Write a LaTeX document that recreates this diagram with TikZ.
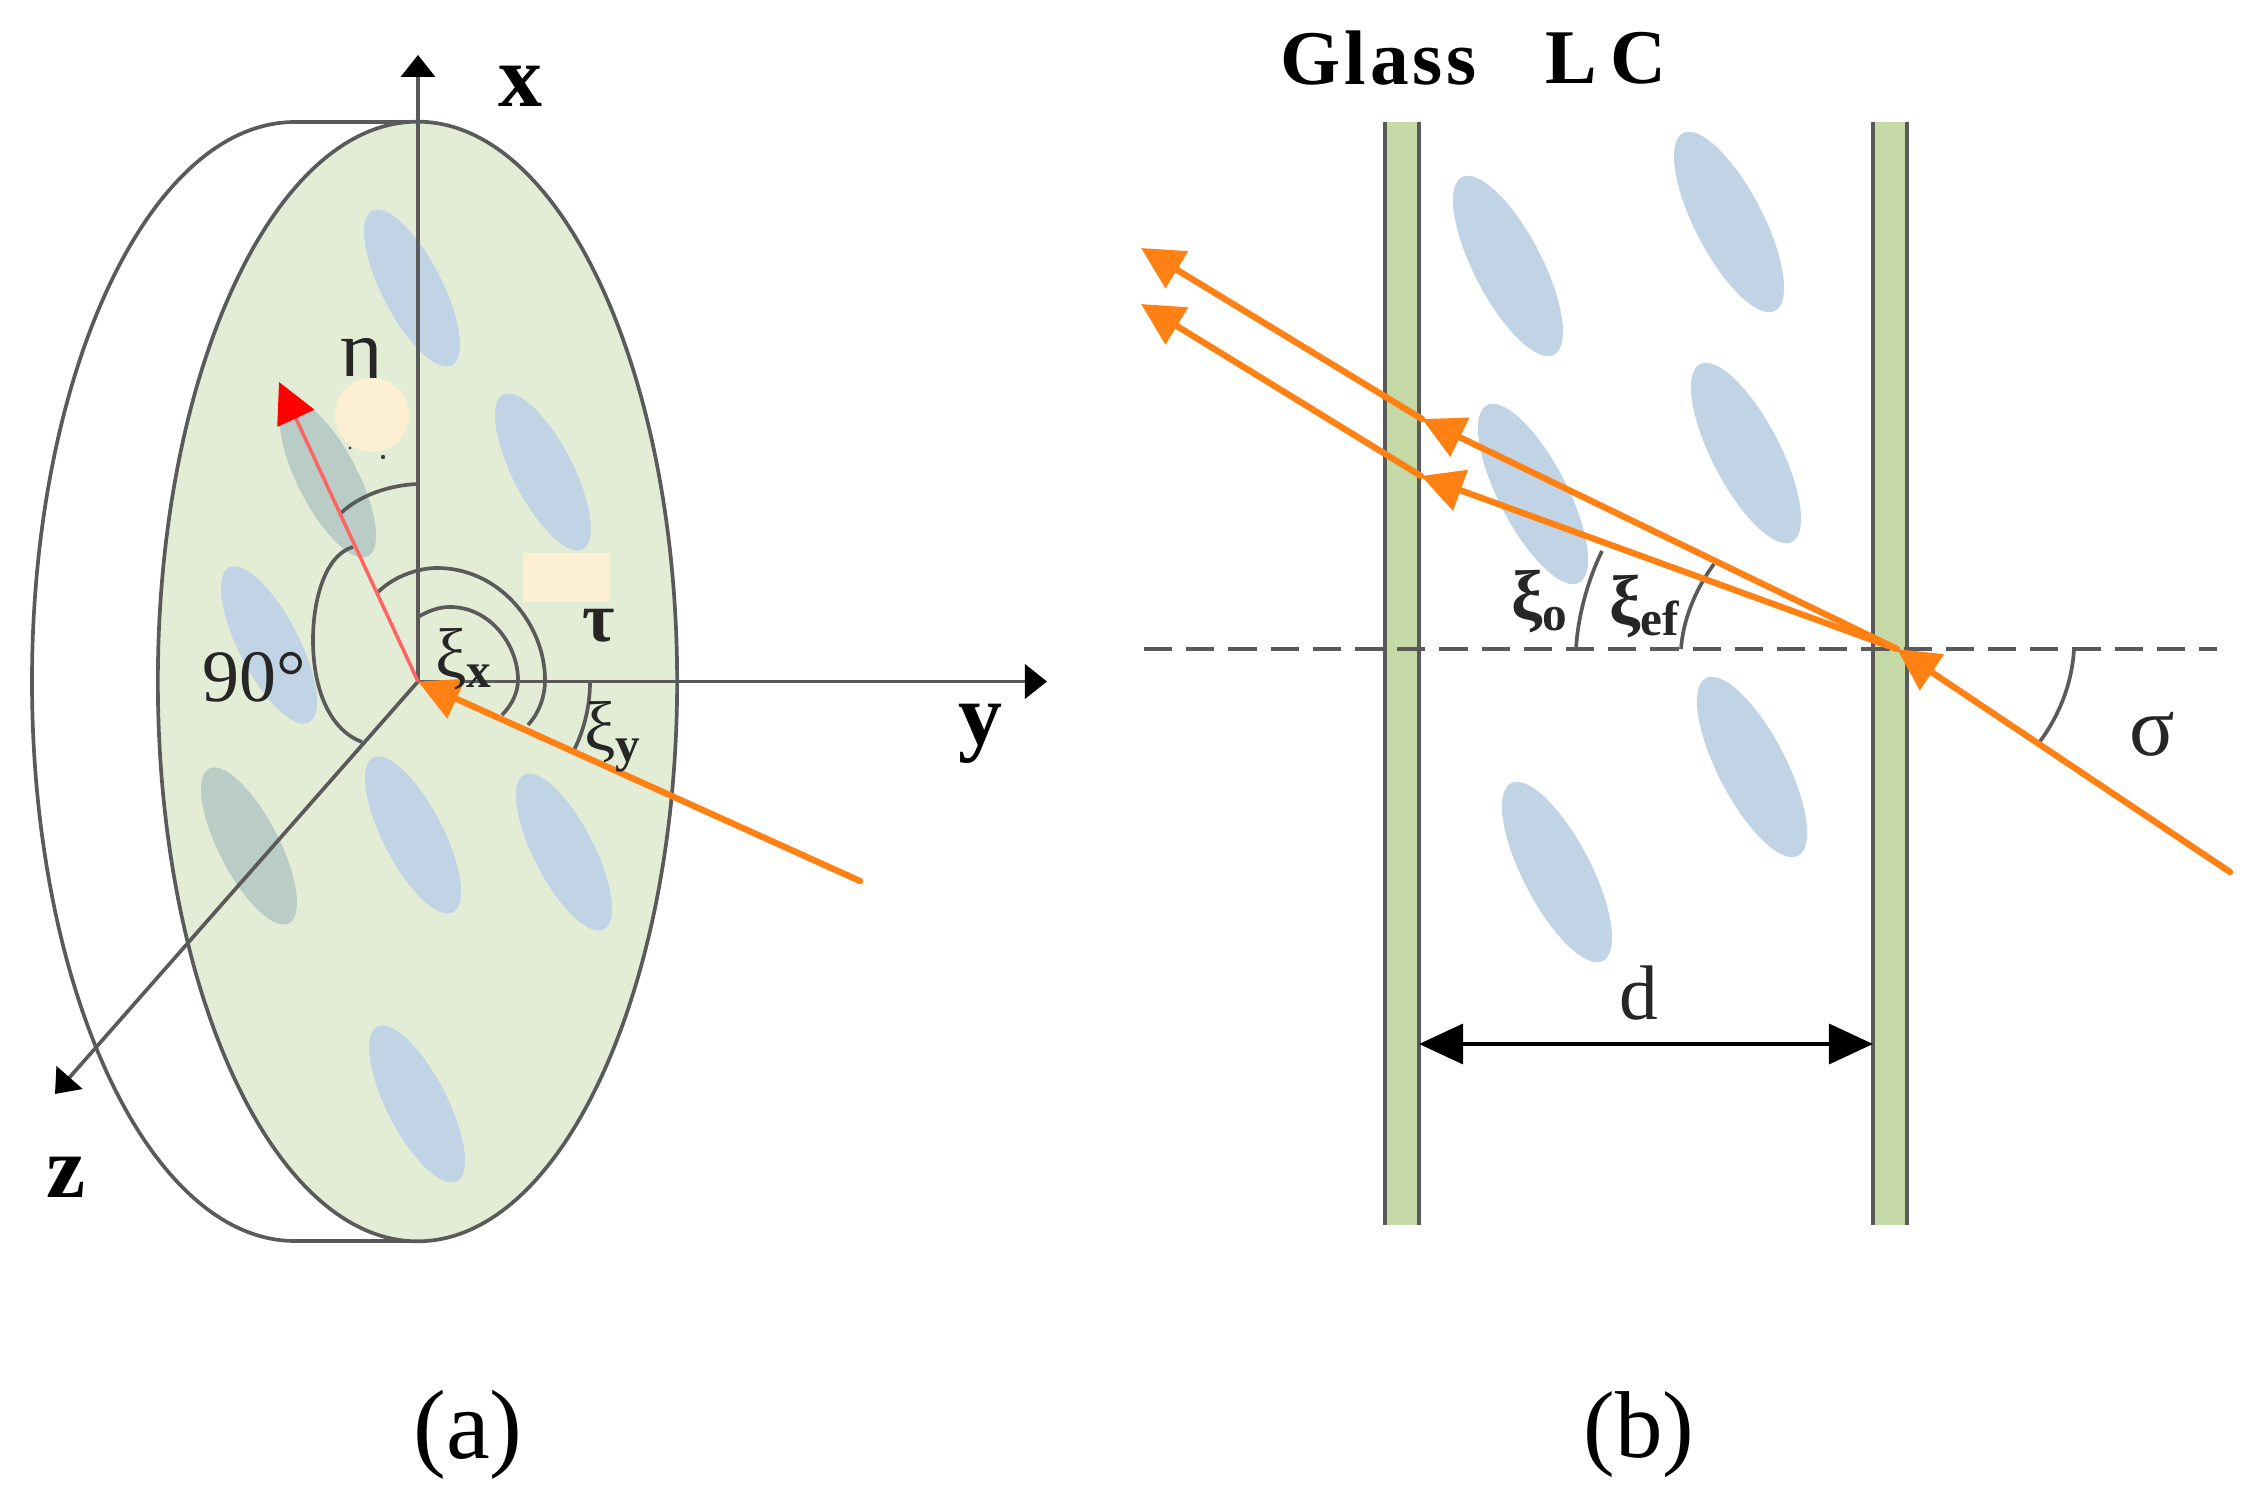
\documentclass[tikz,border=0pt]{standalone}
\usepackage{fontspec}
\setmainfont{Liberation Serif}
\usetikzlibrary{arrows.meta,shapes.geometric}
\definecolor{disc}{HTML}{E3EDD6}
\definecolor{cellblue}{HTML}{C1D4E6}
\definecolor{celldark}{HTML}{B9CDC6}
\definecolor{plategreen}{HTML}{C5DAA6}
\definecolor{peach}{HTML}{FDF0D2}
\definecolor{raycol}{HTML}{FF8114}
\definecolor{linegrey}{HTML}{5A5A5A}
\definecolor{redline}{HTML}{FF6464}
\tikzset{
 px/.style={x=0.01cm,y=-0.01cm},
 cellA/.style={shape=ellipse,draw=none,fill=cellblue,inner sep=0pt,minimum width=1.74cm,minimum height=0.6cm,rotate=-62.7},
 cellD/.style={cellA,fill=celldark},
 cellB/.style={shape=ellipse,draw=none,fill=cellblue,inner sep=0pt,minimum width=2cm,minimum height=0.68cm,rotate=-62.6},
 axis/.style={draw=linegrey,line width=1.05pt,-{Triangle[length=0.22cm,width=0.34cm,color=black]}},
 thin arc/.style={draw=linegrey,line width=1.05pt},
 ray/.style={draw=raycol,line width=1.8pt,line cap=round},
 rayhead/.style={ray,-{Triangle[length=0.42cm,width=0.42cm,color=raycol]}},
 plate/.style={draw=none,fill=plategreen},
 lab/.style={inner sep=0pt,text=black!85},
 axlab/.style={inner sep=0pt,font=\fontsize{25}{25}\selectfont\bfseries},
}
\newcommand{\xisub}[1]{{\fontsize{20}{20}\selectfont ξ}{\fontsize{14}{14}\selectfont\raisebox{-3pt}{\bfseries #1}}}
\begin{document}
\begin{tikzpicture}[px]
\useasboundingbox (0,0) rectangle (2257,1504);
% --- panel (a)
\draw[thin arc] (418,122) -- (295,122) .. controls (150,122) and (32,372) .. (32,681.5)
  .. controls (32,991) and (150,1241) .. (295,1241) -- (418,1241);
\node[shape=ellipse,draw=linegrey,line width=1.05pt,fill=disc,inner sep=0pt,minimum width=5.19cm,minimum height=11.19cm] (disc) at (417.5,681.5) {};
\node[cellA] (a1) at (412,288) {};
\node[cellA] (a2) at (543,472) {};
\node[cellD] (a3) at (328,479) {};
\node[cellA] (a4) at (269,645) {};
\node[cellD] (a5) at (249,846) {};
\node[cellA] (a6) at (413,835) {};
\node[cellA] (a7) at (564,852) {};
\node[cellA] (a8) at (417,1104) {};
\node[lab,font=\fontsize{23}{23}\selectfont] (eta) at (362,366) {η};
\node[circle,fill=peach,draw=none,inner sep=0pt,minimum size=0.74cm] (blob) at (372,415) {};
\node[rectangle,fill=peach,draw=none,inner sep=0pt,minimum width=0.87cm,minimum height=0.49cm] (patch) at (566.5,577.5) {};
\fill[black!75] (383,457) circle (2.2) (350,448) circle (1.6);
\coordinate (O) at (418,681.5);
\coordinate (xend) at (418,55);
\coordinate (yend) at (1047,681.5);
\coordinate (zend) at (55,1094);
\coordinate (redend) at (279,382);
\coordinate (rayA) at (860,881);
\draw[thin arc] (418,484) .. controls (390,485) and (360,495) .. (341,513);
\draw[thin arc] (353,547) .. controls (325,555) and (313,600) .. (313,640) .. controls (313,690) and (330,730) .. (362,742);
\draw[thin arc] (377,593) .. controls (395,575) and (420,568) .. (437,568) .. controls (500,568) and (545,625) .. (545,680) .. controls (545,695) and (540,712) .. (528,725);
\draw[thin arc] (418,617) .. controls (430,610) and (440,607) .. (450,607) .. controls (490,607) and (518,645) .. (518,680) .. controls (518,692) and (512,705) .. (502,715);
\draw[thin arc] (590,682) .. controls (590,710) and (582,735) .. (573,752);
\draw[axis] (O) -- (xend);
\draw[axis] (O) -- (yend);
\draw[axis] (O) -- (zend);
\draw[draw=redline,line width=1pt,-{Triangle[length=0.4cm,width=0.4cm,color=red]}] (O) -- (redend);
\draw[rayhead] (rayA) -- (O);
\node[axlab] (lx) at (520,86) {x};
\node[axlab] (ly) at (980,734) {y};
\node[axlab] (lz) at (66,1177) {z};
\node[lab,font=\fontsize{21}{21}\selectfont] (ninety) at (254,677) {90°};
\node[lab,font=\fontsize{20}{20}\selectfont\bfseries] (tau) at (599,626) {τ};
\node[lab] (xix) at (463,659) {\xisub{x}};
\node[lab] (xiy) at (612,737) {\xisub{y}};
\node[font=\fontsize{28}{28}\selectfont,inner sep=0pt] (capa) at (468,1435) {(a)};
% --- panel (b)
\node[cellB] (b1) at (1508,266) {};
\node[cellB] (b2) at (1729,222) {};
\node[cellB] (b3) at (1533,494) {};
\node[cellB] (b4) at (1746,453) {};
\node[cellB] (b5) at (1752,767) {};
\node[cellB] (b6) at (1557,872) {};
\fill[plate] (1385,122) rectangle (1419,1225);
\fill[plate] (1873,122) rectangle (1907,1225);
\draw[thin arc] (1385,122) -- (1385,1225) (1419,122) -- (1419,1225) (1873,122) -- (1873,1225) (1907,122) -- (1907,1225);
\coordinate (dL) at (1144,649);
\coordinate (dR) at (2217,649);
\draw[draw=linegrey,line width=1.05pt,dash pattern=on 8pt off 4pt] (dL) -- (dR);
\draw[thin arc] (1576,649) .. controls (1578,615) and (1588,580) .. (1602,551);
\draw[thin arc] (1681,649) .. controls (1683,620) and (1695,590) .. (1714,564);
\draw[thin arc] (2074,649) .. controls (2072,685) and (2058,718) .. (2038,744);
\coordinate (J) at (1897,649);
\coordinate (rayB) at (2230,872);
\coordinate (u1) at (1422,419);
\coordinate (l1) at (1421,476);
\coordinate (u2) at (1141,248);
\coordinate (l2) at (1141,304);
\draw[rayhead] (rayB) -- (J);
\draw[rayhead] (J) -- (u1);
\draw[rayhead] (J) -- (l1);
\draw[rayhead] (u1) -- (u2);
\draw[rayhead] (l1) -- (l2);
\coordinate (d1) at (1419,1044);
\coordinate (d2) at (1873,1044);
\draw[draw=black,line width=1pt,{Triangle[length=0.44cm,width=0.4cm]}-{Triangle[length=0.44cm,width=0.4cm]}] (d1) -- (d2);
\node[lab,font=\fontsize{22}{22}\selectfont] (dd) at (1639,993) {d};
\node[lab,font=\fontsize{24}{24}\selectfont] (sig) at (2152,734) {σ};
\node[lab,font=\bfseries] (xio) at (1539,602) {\xisub{o}};
\node[lab,font=\bfseries] (xief) at (1644,607) {\xisub{ef}};
\node[inner sep=0pt,font=\fontsize{22}{22}\selectfont\bfseries\addfontfeature{LetterSpace=5}] (glass) at (1379,58) {Glass};
\node[inner sep=0pt,font=\fontsize{22}{22}\selectfont\bfseries\addfontfeature{LetterSpace=5}] (lc) at (1606,58) {L\,C};
\node[font=\fontsize{27}{27}\selectfont,inner sep=0pt] (capb) at (1639,1435) {(b)};
\end{tikzpicture}
\end{document}
